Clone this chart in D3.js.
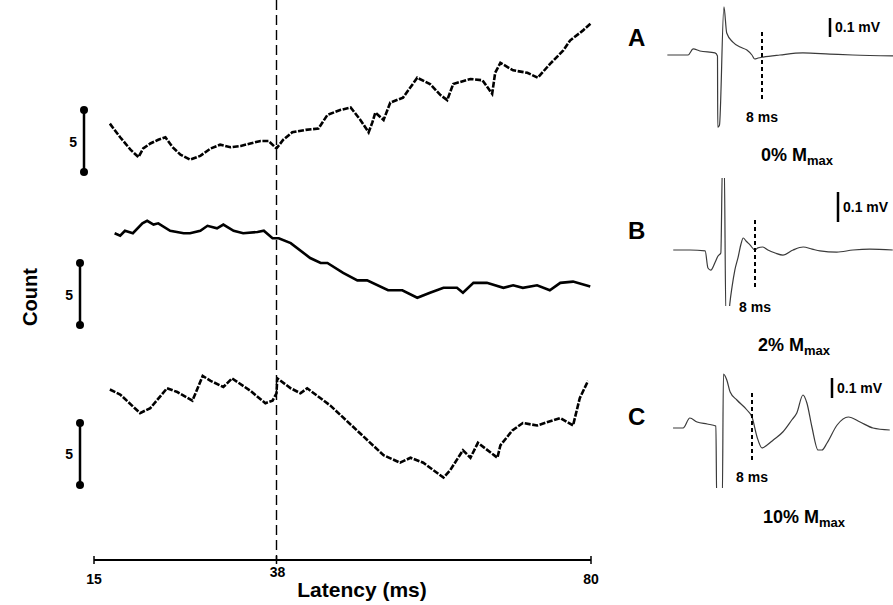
<!DOCTYPE html>
<html><head><meta charset="utf-8">
<script src="https://cdn.jsdelivr.net/npm/d3@7/dist/d3.min.js"></script>
<style>
html,body{margin:0;padding:0;background:#fff;}
svg{display:block;}
text{font-family:"Liberation Sans",Arial,Helvetica,sans-serif;font-weight:bold;fill:#000;}
</style></head>
<body>
<svg id="c" width="893" height="605"></svg>
<script>
// ---------- DATA ----------
const latencyTicks = [15, 38, 80];
const markerLatency = 38;
const countBar = 5;
// [latency ms, count]
const traceTop = [[17.0,3.9],[18.3,2.8],[19.6,1.8],[20.6,1.2],[21.2,1.9],[22.1,2.3],[23.1,2.6],[24.0,2.8],[24.9,2.0],[25.9,1.4],[27.1,1.0],[28.4,1.3],[29.7,1.9],[30.9,2.2],[32.2,2.0],[33.5,2.1],[34.7,2.3],[36.0,2.5],[37.0,2.5],[38.0,1.9],[38.9,2.6],[40.1,3.2],[41.9,3.4],[43.6,3.5],[44.8,4.6],[46.5,5.0],[47.9,5.2],[49.2,4.2],[50.3,3.2],[50.8,4.0],[51.2,4.8],[52.3,4.2],[53.2,5.6],[54.9,6.0],[56.8,7.6],[58.5,7.1],[59.9,6.2],[60.8,5.8],[61.6,7.1],[63.9,7.5],[65.5,7.4],[66.8,6.3],[67.2,8.0],[67.9,8.8],[69.6,8.2],[71.5,8.0],[72.9,7.6],[74.5,8.7],[76.3,9.8],[77.2,10.6],[78.9,11.4],[80.0,12.0]];
const traceMid = [[17.6,7.4],[18.3,7.2],[18.9,7.6],[19.9,7.4],[21.1,8.2],[21.7,8.4],[22.5,8.1],[23.1,8.2],[24.6,7.6],[26.3,7.4],[27.1,7.4],[28.4,7.6],[29.3,8.0],[30.5,7.8],[31.3,8.1],[32.6,7.6],[33.8,7.4],[35.6,7.5],[36.4,7.6],[37.5,7.0],[38.3,7.0],[39.9,6.6],[42.5,5.4],[43.9,5.0],[44.8,5.0],[46.9,4.2],[48.8,3.6],[50.1,3.6],[52.9,2.8],[54.8,2.8],[56.8,2.2],[58.5,2.6],[60.3,3.0],[62.1,3.0],[62.9,2.6],[64.3,3.4],[66.1,3.4],[68.3,3.0],[69.6,3.2],[70.9,3.0],[72.8,3.2],[74.5,2.8],[75.9,3.4],[77.6,3.5],[79.9,3.1]];
const traceBot = [[17.0,7.7],[18.3,7.3],[20.8,5.8],[22.1,6.2],[24.2,7.8],[25.5,7.5],[27.4,6.8],[27.8,7.4],[28.7,8.8],[29.7,8.4],[31.3,7.9],[32.4,8.6],[34.7,7.6],[36.6,6.6],[37.5,6.8],[38.0,7.4],[38.1,8.6],[39.9,7.8],[41.2,7.4],[42.1,7.8],[45.2,6.4],[52.3,2.4],[54.5,1.8],[55.9,2.2],[57.6,1.8],[60.3,0.6],[61.2,1.2],[62.9,2.8],[63.9,2.2],[64.9,3.4],[67.5,2.2],[67.9,3.2],[69.5,4.4],[70.9,5.0],[72.8,4.8],[75.9,5.4],[77.6,4.8],[78.5,7.0],[79.6,8.4]];

// EMG traces: [time ms, mV]
const emgA = [[-8.9,0],[-5.2,0],[-4.3,0.032],[-3.1,0.021],[-0.4,0.011],[0.05,-0.005],[0.1,-0.38],[0.4,-0.37],[1.2,0.253],[1.7,0.116],[2.8,0.068],[4.1,0.042],[5.3,0.026],[6.2,0],[6.7,-0.021],[7.3,-0.016],[8.2,-0.011],[11.2,0],[15.3,0.011],[20.1,0.005],[24.2,0],[31.4,-0.005]];
const emgB = [[-6.6,0],[-3.6,0],[-0.9,-0.003],[-0.4,-0.06],[0.1,-0.067],[0.9,-0.04],[1.4,-0.02],[1.9,-0.01],[2.2,0.3],[2.5,0.3],[2.8,-0.22],[3.3,-0.22],[3.5,-0.18],[3.9,-0.123],[4.4,-0.067],[5.0,-0.023],[5.5,0.02],[5.9,0.04],[6.4,0.03],[7.1,0.017],[8.0,0],[8.5,0.007],[9.4,0.01],[10.3,0],[11.6,-0.01],[13.0,-0.017],[14.8,0],[16.6,0.01],[18.2,0.003],[19.6,-0.003],[22.6,-0.007],[25.5,0],[28.5,0.003],[32.6,0]];
const emgC = [[-6.1,0],[-4.3,0],[-3.1,0.05],[-1.8,0.03],[0,0.02],[1.55,0.01],[1.7,-0.36],[2.7,-0.36],[2.9,0.27],[3.5,0.24],[4.1,0.18],[5.3,0.14],[7.1,0.09],[8.0,0.055],[8.9,-0.045],[9.8,-0.1],[10.7,-0.085],[11.8,-0.06],[13.5,-0.02],[15.1,0.04],[16.0,0.075],[17.1,0.165],[17.8,0.125],[18.7,0.005],[19.8,-0.11],[20.5,-0.11],[21.4,-0.075],[23.2,0.015],[25.2,0.055],[27.3,0.03],[29.6,0],[32.6,-0.01]];
const panelLetters = ["A","B","C"];
const mmaxPercents = ["0%","2%","10%"];
const markerMs = 8;
const scaleMv = 0.1;

// ---------- DRAW ----------
const svg = d3.select("#c");
const x = d3.scaleLinear().domain([15, 38, 80]).range([94, 276.5, 591]);

const leftPanels = [
  {data: traceTop, y: d3.scaleLinear().domain([0,5]).range([172,110]), barX: 84, labY: 147, dash: "6,1.6"},
  {data: traceMid, y: d3.scaleLinear().domain([0,5]).range([325,263]), barX: 80, labY: 300, dash: null},
  {data: traceBot, y: d3.scaleLinear().domain([0,5]).range([485,423]), barX: 80, labY: 459, dash: "6,1.6"}
];

svg.append("line").attr("x1", x(markerLatency)).attr("x2", x(markerLatency))
  .attr("y1", 0).attr("y2", 560).attr("stroke", "#000").attr("stroke-width", 1.4)
  .attr("stroke-dasharray", "10,5");

leftPanels.forEach(p => {
  const line = d3.line().x(d => x(d[0])).y(d => p.y(d[1]));
  svg.append("path").datum(p.data).attr("d", line).attr("fill", "none")
    .attr("stroke", "#000").attr("stroke-width", 2.6).attr("stroke-linejoin", "miter")
    .attr("stroke-dasharray", p.dash);
  svg.append("line").attr("x1", p.barX).attr("x2", p.barX)
    .attr("y1", p.y(0)).attr("y2", p.y(countBar)).attr("stroke", "#000").attr("stroke-width", 2.5);
  [0, countBar].forEach(v => svg.append("circle").attr("cx", p.barX).attr("cy", p.y(v)).attr("r", 4).attr("fill", "#000"));
  svg.append("text").attr("x", p.barX - 7).attr("y", p.labY).attr("text-anchor", "end")
    .attr("font-size", 14).text(countBar);
});

// x axis
svg.append("line").attr("x1", x(15)).attr("x2", x(80)).attr("y1", 560).attr("y2", 560)
  .attr("stroke", "#000").attr("stroke-width", 2);
latencyTicks.forEach(t => {
  svg.append("line").attr("x1", x(t)).attr("x2", x(t)).attr("y1", 556).attr("y2", 564)
    .attr("stroke", "#000").attr("stroke-width", 1.5);
  svg.append("text").attr("x", x(t) + (t === 38 ? 1 : 0)).attr("y", t === 38 ? 577 : 584)
    .attr("text-anchor", "middle").attr("font-size", 14).text(t);
});
svg.append("text").attr("x", 362).attr("y", 597).attr("text-anchor", "middle")
  .attr("font-size", 21).text("Latency (ms)");
svg.append("text").attr("transform", "translate(37,297) rotate(-90)").attr("text-anchor", "middle")
  .attr("font-size", 20).text("Count");

// EMG panels
const emgPanels = [
  {data: emgA, dashX: 762, baseY: 55, barPx: 19, clip: [0, 130], dashY: [32, 100], letterY: 46,
   barX: 830, barY: 37, mvY: 32, msY: 122, mmaxX: 797, mmaxY: 161},
  {data: emgB, dashX: 755, baseY: 250, barPx: 30, clip: [178, 306], dashY: [220, 288], letterY: 239,
   barX: 838, barY: 222, mvY: 212, msY: 312, mmaxX: 794, mmaxY: 351},
  {data: emgC, dashX: 752, baseY: 428, barPx: 20, clip: [373, 488], dashY: [393, 463], letterY: 425,
   barX: 832, barY: 398, mvY: 393, msY: 482, mmaxX: 804, mmaxY: 523}
];
const defs = svg.append("defs");
emgPanels.forEach((p, i) => {
  const ex = d3.scaleLinear().domain([0, markerMs]).range([p.dashX - markerMs * 5.6, p.dashX]);
  const ey = d3.scaleLinear().domain([0, scaleMv]).range([p.baseY, p.baseY - p.barPx]);
  const cid = "clip" + i;
  defs.append("clipPath").attr("id", cid).append("rect")
    .attr("x", 660).attr("y", p.clip[0]).attr("width", 240).attr("height", p.clip[1] - p.clip[0]);
  svg.append("path").datum(p.data).attr("clip-path", `url(#${cid})`)
    .attr("d", d3.line().curve(d3.curveMonotoneX).x(d => ex(d[0])).y(d => ey(d[1])))
    .attr("fill", "none").attr("stroke", "#3a3a3a").attr("stroke-width", 1.2);
  svg.append("line").attr("x1", ex(markerMs)).attr("x2", ex(markerMs))
    .attr("y1", p.dashY[0]).attr("y2", p.dashY[1]).attr("stroke", "#000")
    .attr("stroke-width", 2).attr("stroke-dasharray", "4,3");
  svg.append("text").attr("x", 628).attr("y", p.letterY).attr("font-size", 24).text(panelLetters[i]);
  svg.append("line").attr("x1", p.barX).attr("x2", p.barX)
    .attr("y1", p.barY).attr("y2", p.barY - (ey(0) - ey(scaleMv))).attr("stroke", "#000").attr("stroke-width", 2.5);
  svg.append("text").attr("x", p.barX + 5).attr("y", p.mvY).attr("font-size", 14).text(scaleMv + " mV");
  svg.append("text").attr("x", ex(markerMs)).attr("y", p.msY).attr("text-anchor", "middle")
    .attr("font-size", 14).text(markerMs + " ms");
  const t = svg.append("text").attr("x", p.mmaxX).attr("y", p.mmaxY).attr("text-anchor", "middle").attr("font-size", 18);
  t.append("tspan").text(mmaxPercents[i] + " M");
  t.append("tspan").attr("font-size", 13).attr("dy", 4).text("max");
});
</script>
</body></html>
